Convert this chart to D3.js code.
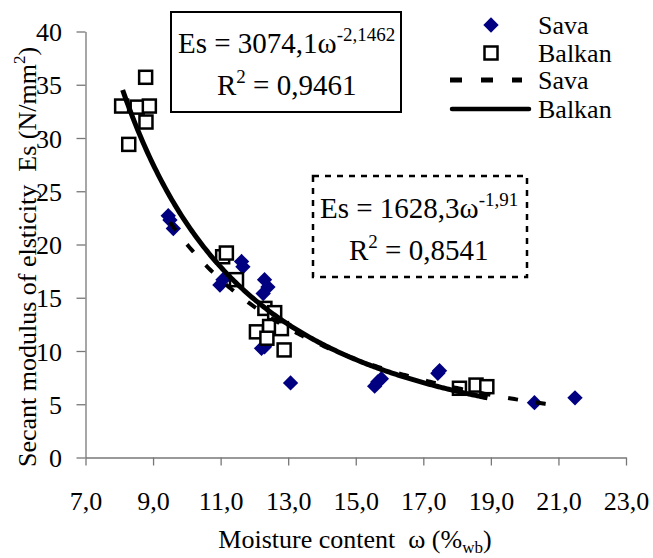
<!DOCTYPE html>
<html>
<head>
<meta charset="utf-8">
<script src="https://cdn.jsdelivr.net/npm/d3@7"></script>
<style>
  body { margin: 0; background: #fff; }
  svg text { font-family: "Liberation Serif", "Times New Roman", Times, serif !important; fill: #000; }
</style>
</head>
<body>
<div class="graph"></div>
<script>
// data
var savaX = [9.45, 9.5, 9.6, 10.98, 11.07, 11.62, 11.66, 12.3, 12.4, 12.26, 12.21, 12.3, 13.07,
             15.56, 15.65, 15.76, 17.43, 17.48, 20.29, 21.49];
var savaY = [22.7, 22.3, 21.5, 16.2, 16.7, 18.4, 17.9, 16.7, 16.0, 15.4, 10.25, 10.4, 7.0,
             6.7, 7.1, 7.4, 7.9, 8.15, 5.15, 5.6];

var balkanX = [8.78, 8.07, 8.53, 8.89, 8.79, 8.28, 11.06, 11.17, 11.47, 12.31, 12.6, 12.06,
               12.45, 12.8, 12.37, 12.88, 18.07, 18.56, 18.88];
var balkanY = [35.7, 33.0, 32.9, 33.0, 31.5, 29.4, 18.85, 19.2, 16.7, 14.0, 13.6, 11.8,
               12.3, 12.1, 11.2, 10.1, 6.5, 6.8, 6.65];

// power trendlines as printed on the chart: Es = a * w^b
var savaFit = {a: 1628.3, b: -1.91, from: 9.5, to: 21.0};
var balkanFit = {a: 3074.1, b: -2.1462, from: 8.1, to: 18.9};

var xTicks = [7, 9, 11, 13, 15, 17, 19, 21, 23];
var yTicks = [0, 5, 10, 15, 20, 25, 30, 35, 40];
var legendLabels = ["Sava", "Balkan", "Sava", "Balkan"];

var width = 653, height = 558;
var serif = '"Liberation Serif", "Times New Roman", Times, serif';

var svg = d3.select(".graph").append("svg")
    .attr("width", width)
    .attr("height", height)
    .attr("font-family", serif);

var xScale = d3.scaleLinear().domain([7, 23]).range([85.5, 626]);
var yScale = d3.scaleLinear().domain([0, 40]).range([457.5, 31.5]);

var axisColor = "#777";

// x axis
var xAxis = svg.append("g")
    .attr("transform", "translate(0," + yScale(0) + ")")
    .call(d3.axisBottom(xScale)
        .tickValues(xTicks)
        .tickSize(8)
        .tickSizeOuter(0)
        .tickFormat(function(d) { return d.toFixed(1).replace(".", ","); }));
xAxis.attr("font-family", serif);
xAxis.select(".domain").attr("stroke", axisColor).attr("stroke-width", 1.3);
xAxis.selectAll(".tick line").attr("stroke", axisColor).attr("stroke-width", 1.3);
xAxis.selectAll(".tick text")
    .attr("y", 52.5).attr("dy", 0)
    .style("font-size", "26px")
    .attr("fill", "#000");

// y axis
var yAxis = svg.append("g")
    .attr("transform", "translate(" + xScale(7) + ",0)")
    .call(d3.axisLeft(yScale)
        .tickValues(yTicks)
        .tickSize(9)
        .tickSizeOuter(0));
yAxis.attr("font-family", serif);
yAxis.select(".domain").attr("stroke", axisColor).attr("stroke-width", 1.3);
yAxis.selectAll(".tick line").attr("stroke", axisColor).attr("stroke-width", 1.3);
yAxis.selectAll(".tick text")
    .attr("x", -23.5).attr("dy", "0.35em")
    .style("font-size", "26px")
    .attr("fill", "#000");

// axis titles
var xTitle = svg.append("text")
    .attr("x", 355).attr("y", 548)
    .attr("text-anchor", "middle")
    .style("font-size", "26px");
xTitle.append("tspan").text("Moisture content\u00a0\u00a0\u03c9 (%");
xTitle.append("tspan").text("wb").attr("dy", 5).style("font-size", "17px");
xTitle.append("tspan").text(")").attr("dy", -5);

var yTitle = svg.append("text")
    .attr("transform", "translate(36,257) rotate(-90)")
    .attr("text-anchor", "middle")
    .style("font-size", "26px");
yTitle.append("tspan").text("Secant modulus of elsticity\u00a0\u00a0Es (N/mm");
yTitle.append("tspan").text("2").attr("dy", -11).style("font-size", "17px");
yTitle.append("tspan").text(")").attr("dy", 11);

// trendlines
function fitPoints(f) {
  return d3.range(f.from, f.to + 0.001, 0.05).map(function(w) {
    return [w, f.a * Math.pow(w, f.b)];
  });
}
var line = d3.line()
    .x(function(d) { return xScale(d[0]); })
    .y(function(d) { return yScale(d[1]); });

// points
var savaData = savaX.map(function(x, i) { return {x: x, y: savaY[i]}; });
var balkanData = balkanX.map(function(x, i) { return {x: x, y: balkanY[i]}; });

var diamond = d3.symbol().type(d3.symbolDiamond2).size(150);

svg.append("g").selectAll("path")
    .data(savaData)
    .enter().append("path")
    .attr("d", diamond)
    .attr("transform", function(d) { return "translate(" + xScale(d.x) + "," + yScale(d.y) + ")"; })
    .attr("fill", "#000080");

svg.append("g").selectAll("rect")
    .data(balkanData)
    .enter().append("rect")
    .attr("x", function(d) { return xScale(d.x) - 6.5; })
    .attr("y", function(d) { return yScale(d.y) - 6.5; })
    .attr("width", 13).attr("height", 13)
    .attr("fill", "#fff")
    .attr("stroke", "#000")
    .attr("stroke-width", 2.5);

svg.append("path")
    .datum(fitPoints(savaFit))
    .attr("d", line)
    .attr("fill", "none")
    .attr("stroke", "#000")
    .attr("stroke-width", 4)
    .attr("stroke-dasharray", "10,18");

svg.append("path")
    .datum(fitPoints(balkanFit))
    .attr("d", line)
    .attr("fill", "none")
    .attr("stroke", "#000")
    .attr("stroke-width", 5);

// equation boxes
svg.append("rect")
    .attr("x", 171).attr("y", 12).attr("width", 230).attr("height", 100)
    .attr("fill", "#fff").attr("stroke", "#000").attr("stroke-width", 2);
var eq1 = svg.append("text").attr("x", 178).attr("y", 53).style("font-size", "29px");
eq1.append("tspan").text("Es = 3074,1\u03c9");
eq1.append("tspan").text("-2,1462").attr("dy", -12).style("font-size", "19px");
var r1 = svg.append("text").attr("x", 217).attr("y", 95).style("font-size", "29px");
r1.append("tspan").text("R");
r1.append("tspan").text("2").attr("dy", -12).style("font-size", "19px");
r1.append("tspan").text(" = 0,9461").attr("dy", 12);

svg.append("rect")
    .attr("x", 313).attr("y", 176).attr("width", 214).attr("height", 101)
    .attr("fill", "#fff").attr("stroke", "#000").attr("stroke-width", 2.5)
    .attr("stroke-dasharray", "6,6");
var eq2 = svg.append("text").attr("x", 320).attr("y", 218).style("font-size", "29px");
eq2.append("tspan").text("Es = 1628,3\u03c9");
eq2.append("tspan").text("-1,91").attr("dy", -12).style("font-size", "19px");
var r2 = svg.append("text").attr("x", 349).attr("y", 260).style("font-size", "29px");
r2.append("tspan").text("R");
r2.append("tspan").text("2").attr("dy", -12).style("font-size", "19px");
r2.append("tspan").text(" = 0,8541").attr("dy", 12);

// legend
var legend = svg.append("g");
var rowY = [25, 53, 80, 109];
legend.append("path")
    .attr("d", diamond)
    .attr("transform", "translate(491," + rowY[0] + ")")
    .attr("fill", "#000080");
legend.append("rect")
    .attr("x", 484.5).attr("y", rowY[1] - 6.5).attr("width", 13).attr("height", 13)
    .attr("fill", "#fff").attr("stroke", "#000").attr("stroke-width", 2.5);
legend.append("line")
    .attr("x1", 450).attr("x2", 522).attr("y1", rowY[2]).attr("y2", rowY[2])
    .attr("stroke", "#000").attr("stroke-width", 5).attr("stroke-dasharray", "12,19");
legend.append("line")
    .attr("x1", 452).attr("x2", 529).attr("y1", rowY[3]).attr("y2", rowY[3])
    .attr("stroke", "#000").attr("stroke-width", 4.5).attr("stroke-linecap", "round");
legend.selectAll("text.lbl")
    .data(legendLabels)
    .enter().append("text")
    .attr("class", "lbl")
    .attr("x", 538)
    .attr("y", function(d, i) { return rowY[i] + 9; })
    .style("font-size", "26px")
    .text(function(d) { return d; });
</script>
</body>
</html>
